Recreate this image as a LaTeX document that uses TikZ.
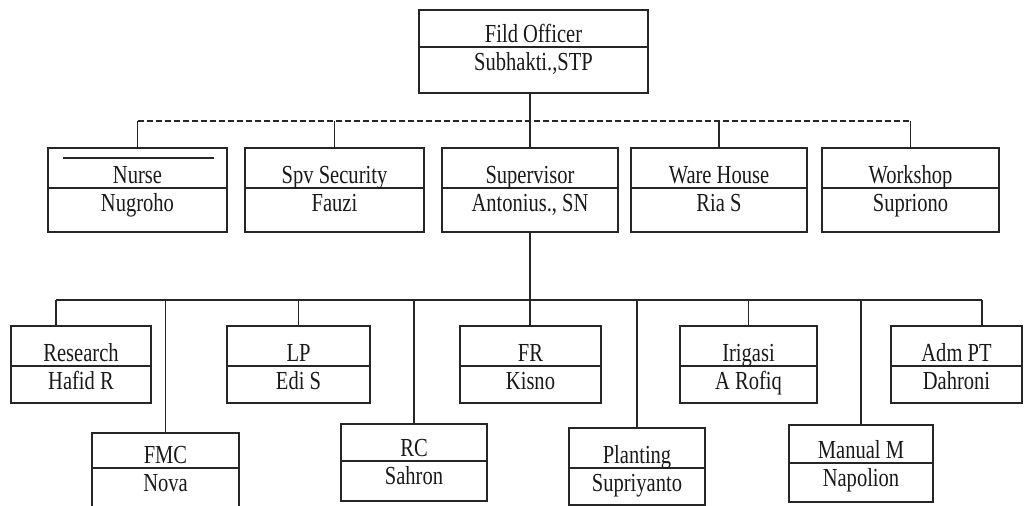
\documentclass[tikz,border=0pt]{standalone}
\usepackage{fontspec}
\setmainfont[FakeStretch=0.79]{Liberation Serif}
\tikzset{
  obox/.style={draw=black!85, line width=1.2pt, inner sep=0pt, outer sep=0pt, rectangle},
  oline/.style={draw=black!85, line width=1.2pt},
  otext/.style={anchor=base, inner sep=0pt, font=\fontsize{26}{28}\selectfont, text=black!90},
  conn/.style={draw=black!85, line width=1.1pt},
  dconn/.style={draw=black!85, line width=1.1pt, dash pattern=on 6pt off 3pt},
}
% name, x1, y1, x2, y2, divider y, title, person
\newcommand\orgbox[8]{%
  \node[obox, minimum width={(#4-#2)*1pt}, minimum height={(#5-#3)*1pt}] (#1) at ({(#2+#4)/2},{(#3+#5)/2}) {};
  \draw[oline] (#1.west |- 0,#6) -- (#1.east |- 0,#6);
  \node[otext] (#1t) at ({(#2+#4)/2},{#6-5}) {#7};
  \node[otext] (#1p) at ({(#2+#4)/2},{#6+23}) {#8};
}
\begin{document}
\begin{tikzpicture}[x=1pt, y=-1pt]
\useasboundingbox (0,0) rectangle (1031,506);
\clip (0,0) rectangle (1031,506);
% top
\orgbox{top}{419}{10}{648}{93}{47}{Fild Officer}{Subhakti.,STP}
% level 2
\orgbox{nurse}{48}{148}{227}{232}{188}{Nurse}{Nugroho}
\draw[oline] (63,158) -- (214,158);
\orgbox{spv}{245}{148}{424}{232}{188}{Spv Security}{Fauzi}
\orgbox{sup}{442}{148}{618}{232}{188}{Supervisor}{Antonius., SN}
\orgbox{ware}{631}{148}{807}{232}{188}{Ware House}{Ria S}
\orgbox{work}{822}{148}{999}{232}{188}{Workshop}{Supriono}
% level 3 upper row
\orgbox{res}{11}{326}{151}{403}{366}{Research}{Hafid R}
\orgbox{lp}{227}{326}{370}{403}{366}{LP}{Edi S}
\orgbox{fr}{460}{326}{601}{403}{366}{FR}{Kisno}
\orgbox{iri}{680}{326}{817}{403}{366}{Irigasi}{A Rofiq}
\orgbox{adm}{891}{326}{1022}{403}{366}{Adm PT}{Dahroni}
% level 3 lower row
\orgbox{fmc}{92}{433}{239}{530}{468}{FMC}{Nova}
\orgbox{rc}{341}{424}{487}{501}{461}{RC}{Sahron}
\orgbox{pla}{569}{428}{705}{505}{468}{Planting}{Supriyanto}
\orgbox{man}{789}{425}{933}{502}{463}{Manual M}{Napolion}
% connectors
\coordinate (dbar) at (0,121);
\coordinate (sbarL) at (56,300);
\coordinate (sbarR) at (982,300);
\draw[conn] (sup.north |- top.south) -- (sup.north);
\draw[dconn] (nurse.north |- dbar) -- (work.north |- dbar);
\foreach \n in {nurse,spv,ware,work}{
  \draw[conn] (\n.north |- dbar) -- (\n.north);
}
\draw[conn] (sup.south) -- (sup.south |- fr.north);
\draw[conn] (sbarL) -- (sbarR);
\draw[conn] (sbarL) -- (res.north -| sbarL);
\draw[conn] (sbarR) -- (adm.north -| sbarR);
\foreach \n in {lp,iri,fmc,rc,pla,man}{
  \draw[conn] (\n.north |- sbarL) -- (\n.north);
}
\end{tikzpicture}
\end{document}
